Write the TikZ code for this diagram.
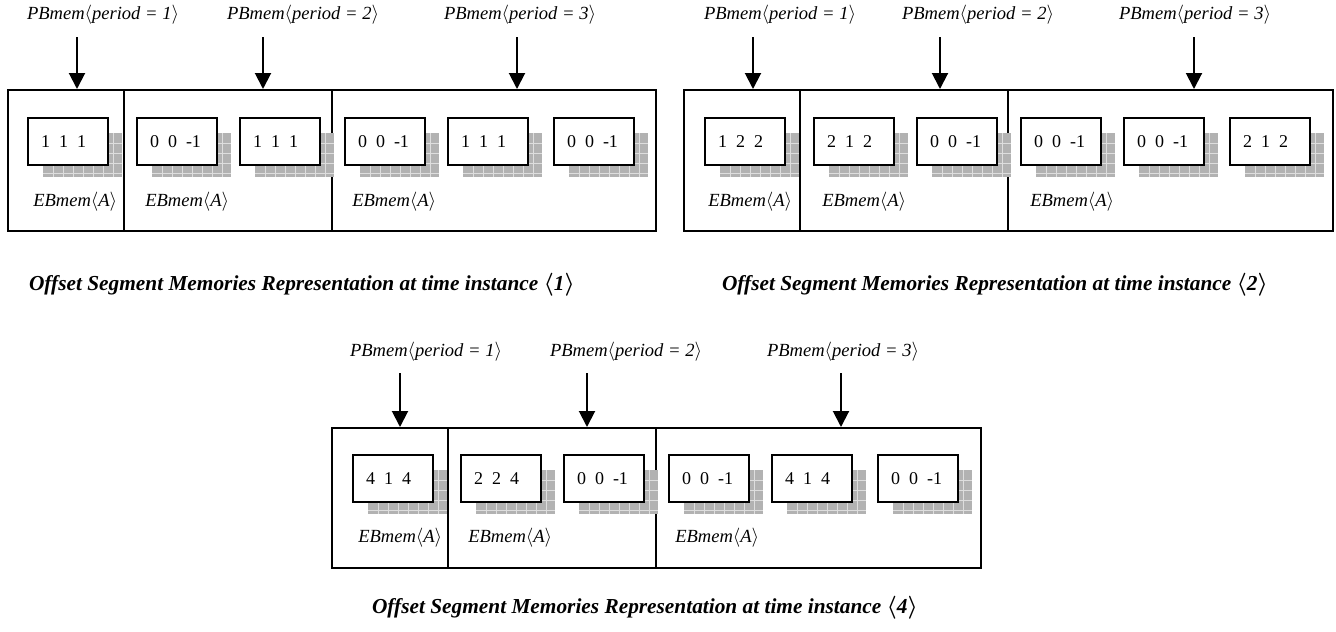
\documentclass[tikz,border=0pt]{standalone}
\usepackage{fontspec}
\setmainfont{Liberation Serif}
\usetikzlibrary{arrows.meta,fit}
\definecolor{shadefill}{RGB}{178,178,178}
\definecolor{shadegrid}{RGB}{222,222,222}
\tikzset{
  sect/.style={draw, line width=1.5pt, inner sep=0pt},
  cell/.style={draw, line width=1.5pt, fill=white, anchor=north west,
    minimum width=60pt, minimum height=35.25pt, inner xsep=9.75pt, inner ysep=0pt,
    font=\fontsize{13.5}{15}\selectfont},
  lbl/.style={font=\itshape\fontsize{13.9}{16}\selectfont, inner sep=0pt},
  eb/.style={font=\itshape\fontsize{13.9}{16}\selectfont, inner sep=0pt, anchor=west},
  captxt/.style={font=\bfseries\itshape\fontsize{16}{18}\selectfont, inner sep=0pt},
  ptr/.style={line width=1.5pt, -{Triangle[length=12pt,width=12pt]}},
}
\newcommand\memcell[4]{%
  \fill[shadefill] (#2+16,#3+16) rectangle (#2+95,#3+60);
  \foreach \k in {1,...,7}{\draw[shadegrid, line width=0.6pt] (#2+16+\k*10,#3+16) -- (#2+16+\k*10,#3+60);}
  \foreach \k in {1,...,4}{\draw[shadegrid, line width=0.6pt] (#2+16,#3+16+\k*10) -- (#2+95,#3+16+\k*10);}
  \node[cell] (#1) at (#2,#3) {\makebox[40.5pt][l]{#4}};
}
\newcommand\pbtext[1]{PBmem$\langle$period = #1$\rangle$}
\newcommand\ebtext{EBmem$\langle$A$\rangle$}
\newcommand\captext[1]{Offset Segment Memories Representation at time instance {\boldmath$\langle$}#1{\boldmath$\rangle$}}
\begin{document}
\begin{tikzpicture}[x=0.75pt,y=-0.75pt]
\useasboundingbox (0,0) rectangle (1336,632);
% ---------- panel 1 ----------
\node[sect, fit={(8,90) (124,231)}] (p1a) {};
\node[sect, fit={(124,90) (332,231)}] (p1b) {};
\node[sect, fit={(332,90) (656,231)}] (p1c) {};
\memcell{c11}{27}{117}{1~~1~~1}
\memcell{c12}{136}{117}{0~~0~~-1}
\memcell{c13}{239}{117}{1~~1~~1}
\memcell{c14}{344}{117}{0~~0~~-1}
\memcell{c15}{447}{117}{1~~1~~1}
\memcell{c16}{553}{117}{0~~0~~-1}
\node[eb] (e11) at (33,202) {\ebtext};
\node[eb] (e12) at (145,202) {\ebtext};
\node[eb] (e13) at (352,202) {\ebtext};
\node[lbl] (l11) at (103,15) {\pbtext{1}};
\node[lbl] (l12) at (303,15) {\pbtext{2}};
\node[lbl] (l13) at (520,15) {\pbtext{3}};
\coordinate (a11) at (77,37);
\coordinate (a12) at (263,37);
\coordinate (a13) at (517,37);
\draw[ptr] (a11) -- (a11 |- p1a.north);
\draw[ptr] (a12) -- (a12 |- p1b.north);
\draw[ptr] (a13) -- (a13 |- p1c.north);
\node[captxt] (cap1) at (302,285) {\captext{1}};
% ---------- panel 2 ----------
\node[sect, fit={(684,90) (800,231)}] (p2a) {};
\node[sect, fit={(800,90) (1008,231)}] (p2b) {};
\node[sect, fit={(1008,90) (1333,231)}] (p2c) {};
\memcell{c21}{704}{117}{1~~2~~2}
\memcell{c22}{813}{117}{2~~1~~2}
\memcell{c23}{916}{117}{0~~0~~-1}
\memcell{c24}{1020}{117}{0~~0~~-1}
\memcell{c25}{1123}{117}{0~~0~~-1}
\memcell{c26}{1229}{117}{2~~1~~2}
\node[eb] (e21) at (708,202) {\ebtext};
\node[eb] (e22) at (822,202) {\ebtext};
\node[eb] (e23) at (1030,202) {\ebtext};
\node[lbl] (l21) at (780,15) {\pbtext{1}};
\node[lbl] (l22) at (978,15) {\pbtext{2}};
\node[lbl] (l23) at (1195,15) {\pbtext{3}};
\coordinate (a21) at (753,37);
\coordinate (a22) at (940,37);
\coordinate (a23) at (1194,37);
\draw[ptr] (a21) -- (a21 |- p2a.north);
\draw[ptr] (a22) -- (a22 |- p2b.north);
\draw[ptr] (a23) -- (a23 |- p2c.north);
\node[captxt] (cap2) at (995,285) {\captext{2}};
% ---------- panel 3 ----------
\node[sect, fit={(332,428) (448,568)}] (p3a) {};
\node[sect, fit={(448,428) (656,568)}] (p3b) {};
\node[sect, fit={(656,428) (981,568)}] (p3c) {};
\memcell{c31}{352}{454}{4~~1~~4}
\memcell{c32}{460}{454}{2~~2~~4}
\memcell{c33}{563}{454}{0~~0~~-1}
\memcell{c34}{668}{454}{0~~0~~-1}
\memcell{c35}{771}{454}{4~~1~~4}
\memcell{c36}{877}{454}{0~~0~~-1}
\node[eb] (e31) at (358,538) {\ebtext};
\node[eb] (e32) at (468,538) {\ebtext};
\node[eb] (e33) at (675,538) {\ebtext};
\node[lbl] (l31) at (426,352) {\pbtext{1}};
\node[lbl] (l32) at (626,352) {\pbtext{2}};
\node[lbl] (l33) at (843,352) {\pbtext{3}};
\coordinate (a31) at (400,373);
\coordinate (a32) at (587,373);
\coordinate (a33) at (841,373);
\draw[ptr] (a31) -- (a31 |- p3a.north);
\draw[ptr] (a32) -- (a32 |- p3b.north);
\draw[ptr] (a33) -- (a33 |- p3c.north);
\node[captxt] (cap3) at (645,608) {\captext{4}};
\end{tikzpicture}
\end{document}
